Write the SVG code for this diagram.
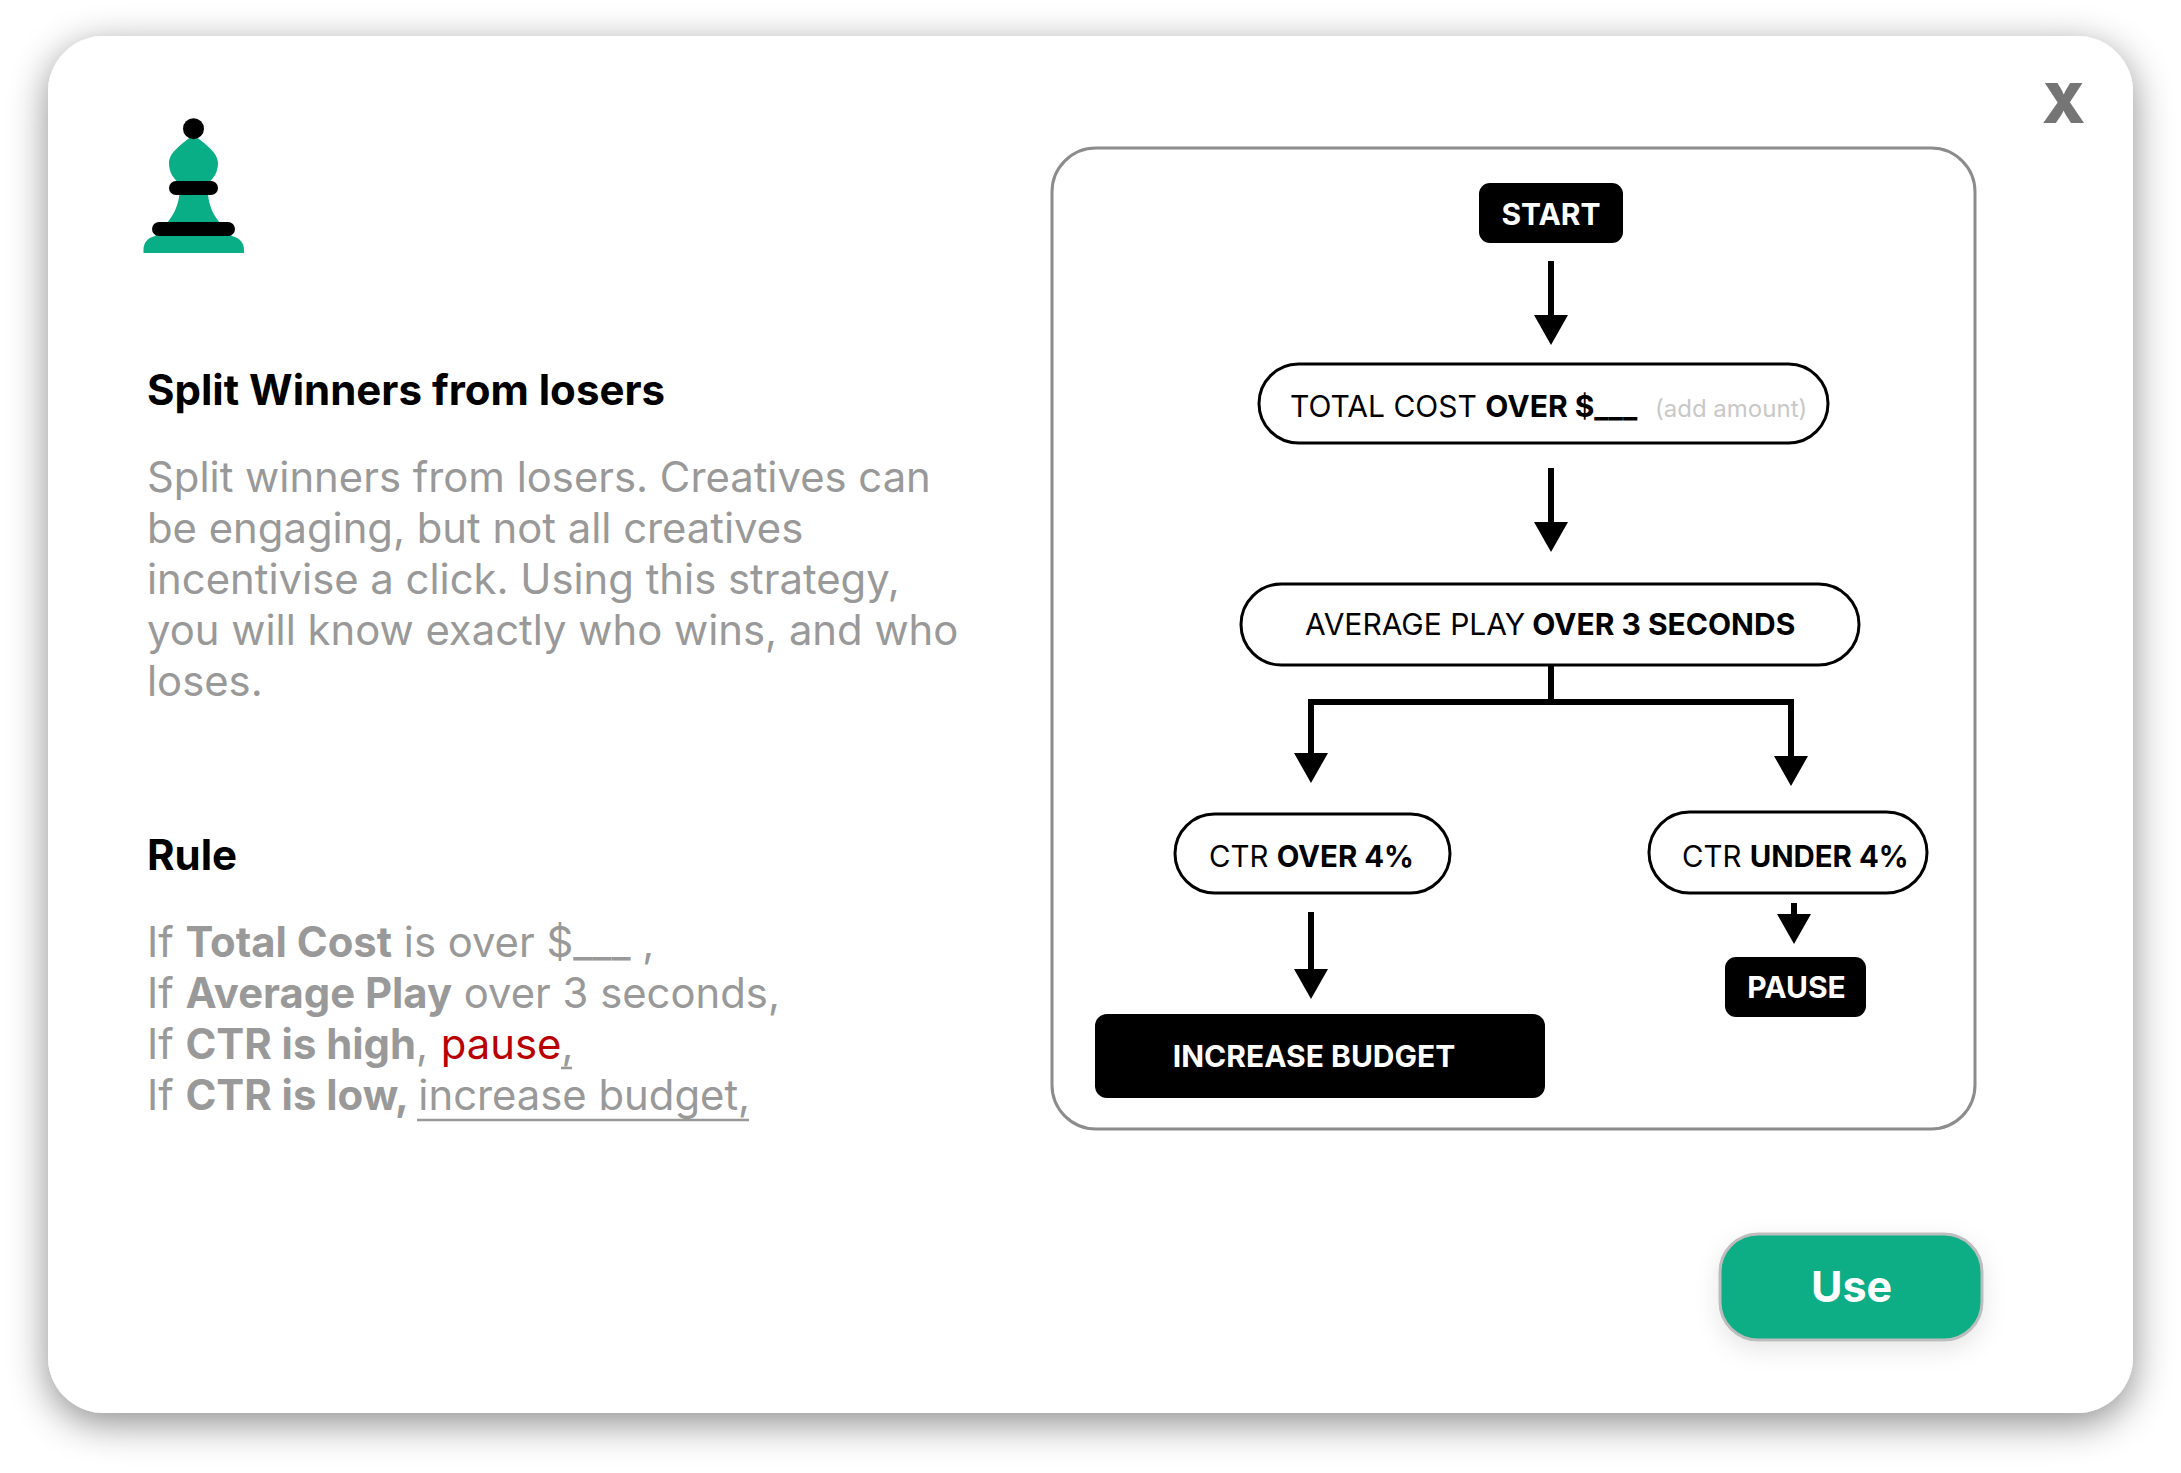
<svg xmlns="http://www.w3.org/2000/svg" width="2181" height="1473" viewBox="0 0 2181 1473">
<defs>
<style>
text{font-family:Inter,"Noto Sans","Liberation Sans",sans-serif}
.b{font-weight:700}
.p{font-size:41.8px;fill:#999}
.h{font-size:42px;font-weight:700;fill:#000}
.n{font-size:30px;fill:#000}
.w{font-size:30px;font-weight:700;fill:#fff;text-anchor:middle}
.pill{fill:#fff;stroke:#000;stroke-width:3}
.box{fill:#000}
.c{fill:none;stroke:#000;stroke-width:6}
.u{stroke:#999;stroke-width:2.5}
.s{font-size:29.4px}
</style>
<filter id="cs" x="-10%" y="-10%" width="120%" height="120%"><feDropShadow dx="0" dy="10" stdDeviation="19" flood-color="#000" flood-opacity=".45"/></filter>
<filter id="bs" x="-20%" y="-30%" width="140%" height="170%"><feDropShadow dx="0" dy="8" stdDeviation="12" flood-color="#000" flood-opacity=".1"/></filter>
<marker id="ah" markerUnits="userSpaceOnUse" markerWidth="30" markerHeight="34" refX="0" refY="17" orient="auto" viewBox="0 0 30 34"><path d="M0 0L30 17L0 34Z" fill="#000"/></marker>
</defs>
<rect width="2181" height="1473" fill="#fff"/>
<rect id="card" x="48" y="36" width="2085" height="1377" rx="56" fill="#fff" filter="url(#cs)"/>
<g id="close"><text x="2063.500" y="123" font-size="55" font-weight="900" fill="#757575" text-anchor="middle">X</text></g>
<g id="bishop">
<path d="M193.500 135C183 143 169 152 169 163C169 173 174 179 179 183H208C213 179 218 173 218 163C218 152 204 143 193.500 135Z" fill="#09ae86"/>
<path d="M179.500 194H208C209 207 214 216 221 224L232 236C240 238 244 243 244 250V253H143.500V250C143.500 243 147 238 155 236L166 224C173 216 178 207 179.500 194Z" fill="#09ae86"/>
<circle cx="193.500" cy="128.700" r="10.500" fill="#000"/>
<rect x="169" y="181" width="49" height="14" rx="7" fill="#000"/>
<rect x="152" y="222" width="83" height="14" rx="7" fill="#000"/>
</g>
<g id="description">
<text class="h" x="147" y="405">Split Winners from losers</text>
<text class="p" x="147" y="492">Split winners from losers. Creatives can</text>
<text class="p" x="147" y="543">be engaging, but not all creatives</text>
<text class="p" x="147" y="594">incentivise a click. Using this strategy,</text>
<text class="p" x="147" y="645">you will know exactly who wins, and who</text>
<text class="p" x="147" y="696">loses.</text>
</g>
<g id="rule">
<text class="h" x="147" y="870">Rule</text>
<text class="p" x="147" y="957">If <tspan class="b">Total Cost</tspan> is over $___ ,</text>
<text class="p" x="147" y="1008">If <tspan class="b">Average Play</tspan> over 3 seconds,</text>
<text class="p" x="147" y="1059">If <tspan class="b">CTR is high</tspan>, <tspan fill="#b80000" dx="1">pause</tspan>,</text>
<text class="p" x="147" y="1110">If <tspan class="b">CTR is low,</tspan> <tspan dx="-2.500">increase budget,</tspan></text>
<path class="u" d="M561 1068H572M417 1120H749"/>
</g>
<rect id="panel" x="1052" y="148" width="923" height="981" rx="44" fill="#fff" stroke="#8c8c8c" stroke-width="3"/>
<g id="connectors">
<path class="c" d="M1551 261V315" marker-end="url(#ah)"/>
<path class="c" d="M1551 468V522" marker-end="url(#ah)"/>
<path class="c" d="M1551 665V702M1311 754V702H1791V757"/>
<path d="M1294 753H1328L1311 783ZM1774 756H1808L1791 786Z" fill="#000"/>
<path class="c" d="M1311 912V969" marker-end="url(#ah)"/>
<path class="c" d="M1794 903V914" marker-end="url(#ah)"/>
</g>
<g id="start"><rect class="box" x="1479" y="183" width="144" height="60" rx="11"/><text class="w" x="1551" y="225">START</text></g>
<g id="total-cost"><rect class="pill" x="1259" y="364" width="569" height="79" rx="39.500"/><text class="n" x="1290" y="417">TOTAL COST <tspan class="b">OVER $___</tspan></text><text x="1655" y="417" font-size="24" fill="#c8c8c8">(add amount)</text></g>
<g id="average-play"><rect class="pill" x="1241" y="584" width="618" height="81" rx="40.500"/><text class="n" x="1305" y="635">AVERAGE PLAY <tspan class="b" dx="-1.500">OVER 3 SECONDS</tspan></text></g>
<g id="ctr-over"><rect class="pill" x="1175" y="814" width="275" height="79" rx="39.500"/><text class="n s" x="1209" y="867">CTR <tspan class="b">OVER 4%</tspan></text></g>
<g id="ctr-under"><rect class="pill" x="1649" y="812" width="278" height="81" rx="40.500"/><text class="n s" x="1682" y="867">CTR <tspan class="b">UNDER 4%</tspan></text></g>
<g id="pause"><rect class="box" x="1725" y="957" width="141" height="60" rx="11"/><text class="w" x="1796.500" y="998">PAUSE</text></g>
<g id="increase-budget"><rect class="box" x="1095" y="1014" width="450" height="84" rx="12"/><text class="w" x="1314" y="1067">INCREASE BUDGET</text></g>
<g id="use"><rect x="1720" y="1234" width="262" height="106" rx="38" fill="#09ae86" stroke="#bdbdbd" stroke-width="3" filter="url(#bs)"/><text x="1851.500" y="1302" font-size="43" font-weight="700" fill="#fff" text-anchor="middle">Use</text></g>
</svg>
